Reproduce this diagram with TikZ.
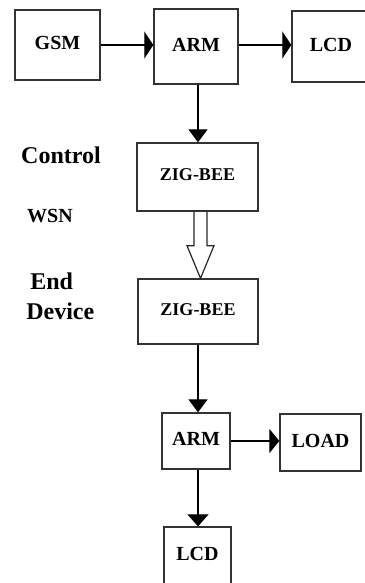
\documentclass[tikz,border=0pt]{standalone}
\usepackage{fontspec}
\setmainfont{Liberation Serif}
\usetikzlibrary{arrows.meta,calc}
\begin{document}
\begin{tikzpicture}[x=1pt,y=-1pt,
  box/.style={draw=black!80,line width=1.3pt,inner sep=0pt,rectangle,text depth=4pt,
    font=\fontsize{20}{24}\selectfont\bfseries},
  zigbox/.style={box,font=\fontsize{18}{22}\selectfont\bfseries},
  lbl/.style={inner sep=0pt,font=\fontsize{24}{28}\selectfont\bfseries},
  conn/.style={line width=1.2pt,black},
  harr/.style={conn,-{Triangle[length=9pt,width=27pt]}},
  varr/.style={conn,-{Triangle[length=13pt,width=19pt]}}]
\useasboundingbox (0,0) rectangle (364,583);
% boxes
\node[box,minimum width=85pt,minimum height=70pt] (gsm) at (57.5,45) {GSM};
\node[box,minimum width=84pt,minimum height=75pt] (arm1) at (196,46.5) {ARM};
\node[box,minimum width=78pt,minimum height=71pt] (lcd1) at (331,46.5) {LCD};
\node[zigbox,minimum width=121pt,minimum height=68pt] (zig1) at (197.5,177) {ZIG-BEE};
\node[zigbox,minimum width=120pt,minimum height=65pt] (zig2) at (198,311.5) {ZIG-BEE};
\node[box,minimum width=68pt,minimum height=56pt] (arm2) at (196,441) {ARM};
\node[box,minimum width=81pt,minimum height=57pt] (load) at (320.5,442.5) {LOAD};
\node[box,minimum width=67pt,minimum height=58pt] (lcd2) at (197.5,556) {LCD};
% labels
\node[lbl] (ctrl) at (61,155) {Control};
\node[lbl,font=\fontsize{20}{24}\selectfont\bfseries] (wsn) at (50,216) {WSN};
\node[lbl] (endl) at (51.7,281.7) {End};
\node[lbl] (devl) at (60.3,311.7) {Device};
% connectors
\draw[harr] (gsm.east) -- (arm1.west |- gsm.east);
\draw[harr] (arm1.east |- gsm.east) -- (lcd1.west |- gsm.east);
\draw[varr] ([xshift=2pt]arm1.south) -- ([xshift=2pt]arm1.south |- zig1.north);
\coordinate (hs) at ([xshift=3pt]zig1.south);
\coordinate (ht) at (hs |- zig2.north);
\draw[line width=1.2pt,black!85,line join=miter]
  ($(hs)+(-6.5,0)$) -- ($(hs)+(-6.5,34)$) -- ($(hs)+(-13.5,34)$) -- (ht)
  -- ($(hs)+(13.5,34)$) -- ($(hs)+(6.5,34)$) -- ($(hs)+(6.5,0)$);
\draw[varr] (zig2.south) -- (zig2.south |- arm2.north);
\draw[conn,-{Triangle[length=10pt,width=24pt]}] (arm2.east) -- (load.west |- arm2.east);
\draw[conn,-{Triangle[length=12pt,width=21pt]}] ([xshift=2pt]arm2.south) -- ([xshift=2pt]arm2.south |- lcd2.north);
\end{tikzpicture}
\end{document}
